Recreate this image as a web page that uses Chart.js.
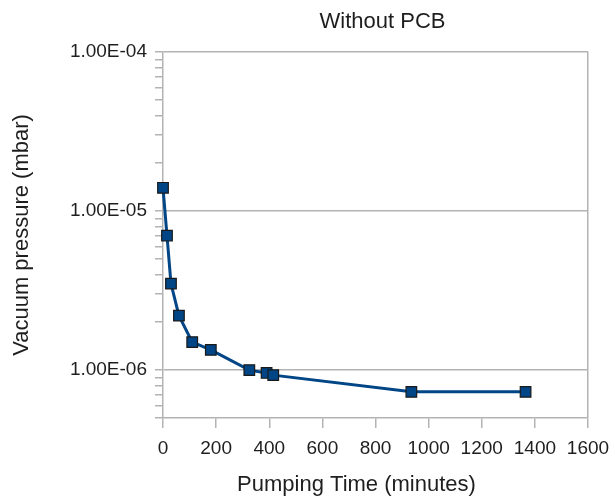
<!DOCTYPE html>
<html>
<head>
<meta charset="utf-8">
<script src="https://cdn.jsdelivr.net/npm/chart.js@4.4.1/dist/chart.umd.min.js"></script>
<style>
  html, body { margin: 0; padding: 0; background: #fff; }
  #wrap { width: 615px; height: 501px; }
</style>
</head>
<body>
<div id="wrap"><canvas id="vacuumChart"></canvas></div>
<script>
const timeMinutes = [0, 15, 30, 60, 110, 180, 325, 390, 415, 935, 1365];
const pressureMbar = [1.4e-5, 7.0e-6, 3.5e-6, 2.2e-6, 1.5e-6, 1.34e-6, 1.0e-6, 9.6e-7, 9.3e-7, 7.3e-7, 7.3e-7];

const yMajorTicks = [1e-6, 1e-5, 1e-4];
const yTickLabels = ['1.00E-06', '1.00E-05', '1.00E-04'];
const yMinorSignificands = [2, 3, 4, 5, 6, 7, 8, 9];
const yMin = 5e-7;
const yMax = 1e-4;

const xTicks = [0, 200, 400, 600, 800, 1000, 1200, 1400, 1600];

const gridGray = '#b3b3b3';
const textColor = '#1e1e1e';
const seriesBlue = '#004586';
const fontFamily = '"Liberation Sans", Arial, sans-serif';

function yTickValues() {
  const vals = [];
  yMajorTicks.forEach((major) => {
    [1].concat(yMinorSignificands).forEach((s) => {
      const v = (major / 10) * s;
      if (v >= yMin * 0.999 && v <= yMax * 1.001) vals.push(v);
    });
  });
  vals.push(yMax);
  return Array.from(new Set(vals.map((v) => +v.toPrecision(3)))).sort((a, b) => a - b);
}

function majorIndex(value) {
  return yMajorTicks.findIndex((m) => Math.abs(value - m) / m < 1e-6);
}

// chart title and x caption are placed a bit off the plot centre in the original
const captions = {
  id: 'captions',
  afterDraw(chart) {
    const {ctx, chartArea} = chart;
    const mid = (chartArea.left + chartArea.right) / 2;
    ctx.save();
    ctx.font = '22px ' + fontFamily;
    ctx.fillStyle = textColor;
    ctx.textAlign = 'center';
    ctx.textBaseline = 'alphabetic';
    ctx.fillText('Without PCB', mid + 7, 28);
    ctx.fillText('Pumping Time (minutes)', mid - 19, 491);
    ctx.restore();
  },
};

const ctx = document.getElementById('vacuumChart').getContext('2d');

new Chart(ctx, {
  type: 'line',
  data: {
    datasets: [
      {
        label: 'Without PCB',
        data: timeMinutes.map((t, i) => ({x: t, y: pressureMbar[i]})),
        borderColor: seriesBlue,
        borderWidth: 3,
        tension: 0,
        clip: false,
        pointStyle: 'rect',
        pointRadius: 7.5,
        pointBackgroundColor: seriesBlue,
        pointBorderColor: '#1a1a1a',
        pointBorderWidth: 1.2,
        fill: false,
      },
    ],
  },
  options: {
    responsive: true,
    maintainAspectRatio: false,
    animation: false,
    layout: {padding: {left: 0, right: 27, top: 52, bottom: 0}},
    plugins: {
      legend: {display: false},
      tooltip: {enabled: false},
      title: {display: false},
    },
    scales: {
      x: {
        type: 'linear',
        min: 0,
        max: 1600,
        afterBuildTicks: (scale) => {
          scale.ticks = xTicks.map((v) => ({value: v}));
        },
        afterFit: (scale) => {
          scale.height = 83;
          scale.paddingLeft = 0;
          scale.paddingRight = 0;
        },
        ticks: {
          color: textColor,
          font: {family: fontFamily, size: 19},
          padding: 9,
          maxRotation: 0,
          autoSkip: false,
          callback: (value) => String(value),
        },
        grid: {
          color: (c) => (c.tick && c.tick.value === 1600 ? gridGray : 'rgba(0,0,0,0)'),
          tickColor: gridGray,
          tickLength: 10,
          lineWidth: 1.5,
        },
        border: {color: gridGray, width: 1.5},
        title: {display: false},
      },
      y: {
        type: 'logarithmic',
        min: yMin,
        max: yMax,
        afterBuildTicks: (scale) => {
          scale.ticks = yTickValues().map((v) => ({value: v, major: majorIndex(v) >= 0}));
        },
        afterFit: (scale) => {
          scale.width = 163;
          scale.paddingTop = 0;
          scale.paddingBottom = 0;
        },
        ticks: {
          color: textColor,
          font: {family: fontFamily, size: 19},
          padding: 8,
          autoSkip: false,
          callback: (value) => {
            const i = majorIndex(value);
            return i >= 0 ? yTickLabels[i] : '';
          },
        },
        grid: {
          color: (c) => (c.tick && majorIndex(c.tick.value) >= 0 ? gridGray : 'rgba(0,0,0,0)'),
          tickColor: gridGray,
          tickLength: 8,
          lineWidth: 1.5,
        },
        border: {color: gridGray, width: 1.5},
        title: {
          display: true,
          text: 'Vacuum pressure (mbar)',
          color: textColor,
          font: {family: fontFamily, size: 22},
          padding: {top: 9, bottom: 0},
        },
      },
    },
  },
  plugins: [captions],
});
</script>
</body>
</html>
